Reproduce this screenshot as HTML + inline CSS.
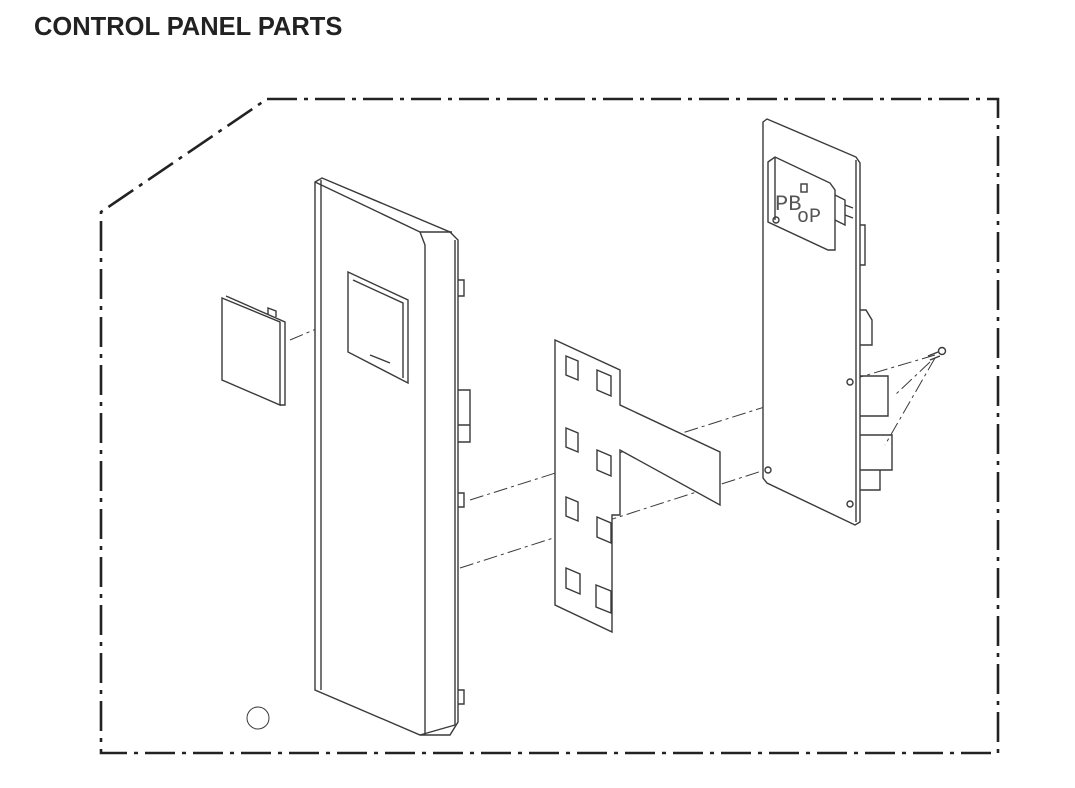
<!DOCTYPE html>
<html><head><meta charset="utf-8"><style>
html,body{margin:0;padding:0;background:#fff;}
body{width:1075px;height:788px;position:relative;overflow:hidden;font-family:"Liberation Sans",sans-serif;}
h1{position:absolute;left:34px;top:13px;margin:0;font-size:25.5px;font-weight:bold;color:#222;letter-spacing:0;}
svg{position:absolute;left:0;top:0;}
</style></head><body>
<h1>CONTROL PANEL PARTS</h1>
<svg width="1075" height="788" viewBox="0 0 1075 788" fill="none" stroke="#3a3a3a" stroke-width="1.4">
<!-- frame -->
<polyline points="267,99 998,99 998,753 101,753 101,212 267,99" stroke="#222" stroke-width="2.6" stroke-dasharray="30,7,4,7"/>
<!-- cap -->
<polygon points="222,298 280,322 280,405 222,380" fill="#fff"/>
<polyline points="226,296 285,322 285,405 280,405"/>
<path d="M268,314 l0,-6 l8,3 l0,6"/>
<!-- dash lines -->
<g stroke-dasharray="14,4,3,4" stroke-width="1">
<line x1="290" y1="340" x2="385" y2="300"/>
<line x1="470" y1="500" x2="850" y2="380"/>
<line x1="460" y1="568" x2="765" y2="470"/>
<line x1="850" y1="380" x2="935" y2="355"/>
<line x1="935" y1="358" x2="885" y2="445"/>
<line x1="930" y1="362" x2="895" y2="395"/>
</g>
<!-- panel -->
<polygon points="315,182 322,178 450,232 458,240 458,722 450,735 420,735 315,690" fill="#fff"/>
<polyline points="315,182 420,232 425,245 425,735"/>
<polyline points="420,232 452,232"/>
<polyline points="420,735 455,725"/>
<line x1="321" y1="180" x2="321" y2="690"/>
<line x1="455" y1="240" x2="455" y2="725"/>
<path d="M458,280 h6 v16 h-6 M458,390 h12 v52 h-12 M458,425 h12 M458,493 h6 v14 h-6 M458,690 h6 v14 h-6"/>
<polygon points="348,272 408,300 408,383 348,352"/>
<polyline points="353,280 403,303 403,378"/>
<path d="M370,355 l20,8"/>
<circle cx="258" cy="718" r="11" stroke-width="1"/>
<!-- membrane -->
<polygon points="555,340 620,370 620,405 720,452 720,505 620,450 620,515 612,515 612,632 555,605" fill="#fff"/>
<g>
<polygon points="566,356 578,361 578,380 566,375"/>
<polygon points="597,370 611,376 611,396 597,390"/>
<polygon points="566,428 578,433 578,452 566,447"/>
<polygon points="597,450 611,456 611,476 597,470"/>
<polygon points="566,497 578,502 578,521 566,516"/>
<polygon points="597,517 611,523 611,543 597,537"/>
<polygon points="566,568 580,574 580,594 566,588"/>
<polygon points="596,585 611,591 611,613 596,607"/>
</g>
<!-- pcb -->
<polygon points="763,122 767,119 856,157 860,163 860,522 855,525 767,483 763,478" fill="#fff"/>
<line x1="856" y1="160" x2="856" y2="522"/>
<polygon points="768,162 775,157 830,183 835,190 835,250 828,250 768,222" fill="#fff"/>
<polyline points="775,157 775,220"/>
<path d="M835,195 l10,5 v25 l-10,-5 M845,205 l8,3 M845,215 l8,3"/>
<text x="775" y="210" font-size="22" fill="#555" stroke="none" font-family="Liberation Mono,monospace" transform="scale(1,1)">PB</text>
<text x="797" y="222" font-size="20" fill="#555" stroke="none" font-family="Liberation Mono,monospace">oP</text>
<rect x="801" y="184" width="6" height="8"/>
<circle cx="776" cy="220" r="3"/>
<path d="M860,225 h5 v40 h-5 M860,310 h6 l6,10 v25 h-12 M860,376 h28 v40 h-28 M860,435 h32 v35 h-32 M860,470 h20 v20 h-20"/>
<circle cx="850" cy="382" r="3"/>
<circle cx="768" cy="470" r="3"/>
<circle cx="850" cy="504" r="3"/>
<!-- screw -->
<path d="M928,356 l10,-4 M930,360 l10,-4"/>
<circle cx="942" cy="351" r="3.5"/>
</svg>
</body></html>
